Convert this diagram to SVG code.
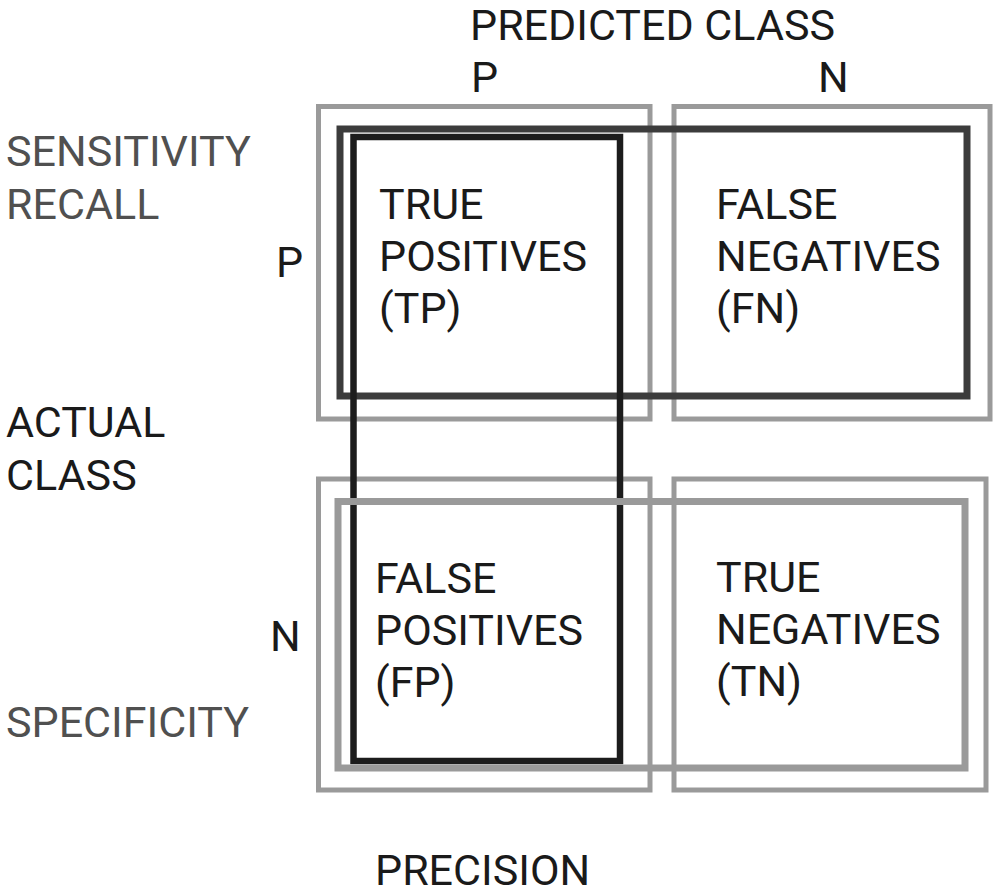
<svg xmlns="http://www.w3.org/2000/svg" width="999" height="896" viewBox="0 0 999 896">
<style>
text{font-family:Roboto,"Liberation Sans",Arial,sans-serif;font-size:43px;fill:#1a1a1a}
.soft{fill:#505050}
.cell{fill:none;stroke:#9a9a9a;stroke-width:5}
.sens{fill:none;stroke:#3c3c3c;stroke-width:7}
.prec{fill:none;stroke:#1c1c1c;stroke-width:6.5}
.spec{fill:none;stroke:#9a9a9a;stroke-width:7}
</style>
<rect width="999" height="896" fill="#fff"/>
<g id="headers">
<text x="470" y="40">PREDICTED CLASS</text>
<text x="471" y="92">P</text>
<text x="818" y="92">N</text>
<text x="276" y="277">P</text>
<text x="270" y="651">N</text>
<text class="soft" x="6" y="166">SENSITIVITY</text>
<text class="soft" x="6" y="219">RECALL</text>
<text x="6" y="437">ACTUAL</text>
<text x="6" y="490">CLASS</text>
<text class="soft" x="6" y="737">SPECIFICITY</text>
<text x="375" y="885">PRECISION</text>
</g>
<g id="cells">
<g id="tp"><rect class="cell" x="318.5" y="106.5" width="331.5" height="312.5"/></g>
<g id="fn"><rect class="cell" x="674" y="106.5" width="316" height="312.5"/></g>
<g id="fp"><rect class="cell" x="318.5" y="479" width="331.5" height="311"/></g>
<g id="tn"><rect class="cell" x="674" y="479" width="312" height="311"/></g>
</g>
<g id="metric-boxes">
<rect id="sensitivity-box" class="sens" x="340" y="129" width="627" height="267"/>
<rect id="precision-box" class="prec" x="353.5" y="137" width="266.5" height="624"/>
<rect id="specificity-box" class="spec" x="338" y="501.5" width="627" height="266.5"/>
</g>
<g id="cell-labels">
<text x="379" y="219">TRUE</text>
<text x="379" y="271">POSITIVES</text>
<text x="379" y="323">(TP)</text>
<text x="716" y="219">FALSE</text>
<text x="716" y="271">NEGATIVES</text>
<text x="716" y="323">(FN)</text>
<text x="375" y="593">FALSE</text>
<text x="375" y="645">POSITIVES</text>
<text x="375" y="697">(FP)</text>
<text x="716" y="592">TRUE</text>
<text x="716" y="644">NEGATIVES</text>
<text x="716" y="696">(TN)</text>
</g>
</svg>
